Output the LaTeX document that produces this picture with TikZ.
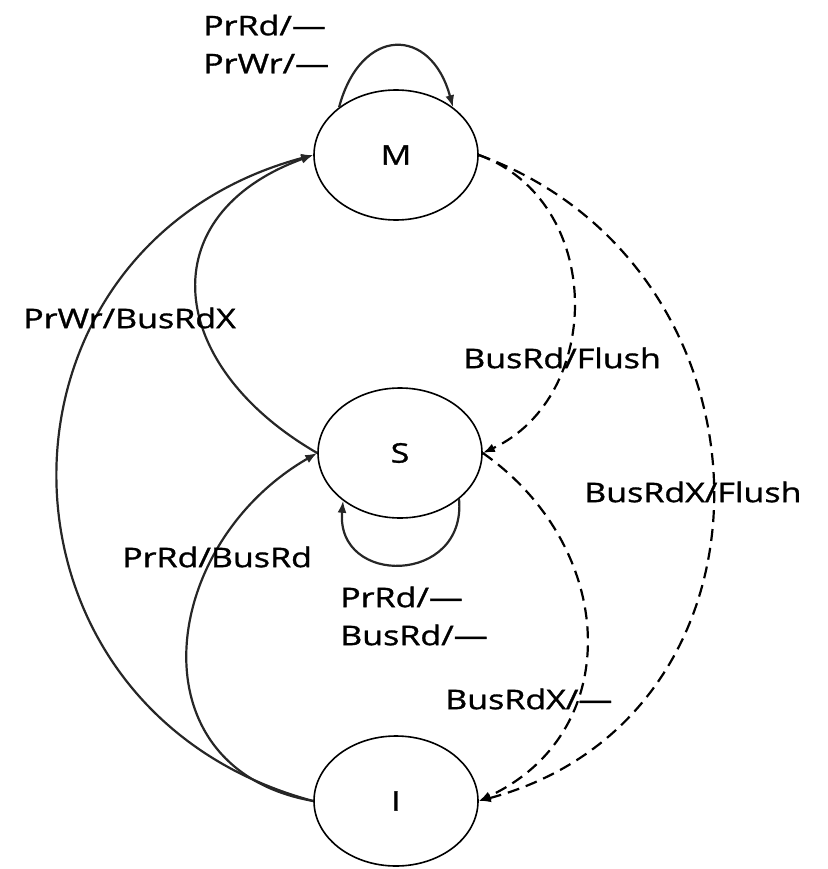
\documentclass[tikz,border=0pt]{standalone}
\usepackage{fontspec}
\setmainfont[FakeStretch=1.26,FakeBold=1.2]{Open Sans}
\usetikzlibrary{
    arrows.meta,
    shapes.geometric
}
\tikzset{
    % Colors
    edge color/.style={black!85},
    %
    % States
    state/.style={ellipse,draw=black,line width=1.6pt,minimum width=164pt,minimum height=130pt,inner sep=0pt},
    %
    % Arrows
    arrow tip/.tip={Latex[length=12pt,width=9pt]},
    arr/.style={->,>={arrow tip},edge color,line width=2.2pt},
    darr/.style={arr,draw=black,dash pattern=on 12pt off 7pt},
    %
    % Labels
    lbl/.style={inner sep=0pt,anchor=west,align=left}
}
\tikzstyle{every node}=[font=\fontsize{27}{38}\selectfont]

\begin{document}
\begin{tikzpicture}[x=1pt,y=1pt]
        \useasboundingbox (0,0) rectangle (827,-869);
        \node[state] (M) at (396,-155) {M};
        \node[state] (S) at (400,-453) {S};
        \node[state] (I) at (396,-801) {I};

        \draw[arr] (M.140) to[out=75,in=105,looseness=1.9] (M.40);
        \draw[arr] (S.-38) to[out=-85,in=-95,looseness=1.9] (S.-140);
        \draw[darr] (M.east) to[out=-20,in=25,looseness=1.15] (S.east);
        \draw[darr] (M.east) to[out=-20,in=15,looseness=1.3] (I.east);
        \draw[darr] (S.east) to[out=-35,in=25,looseness=1.2] (I.east);
        \draw[arr] (I.west) to[out=170,in=210,looseness=1.35] (S.west);
        \draw[arr] (I.west) to[out=165,in=195,looseness=1.4] (M.west);
        \draw[arr] (S.west) to[out=150,in=200,looseness=1.5] (M.west);

        \node[lbl] (mloop) at (203,-44) {PrRd/—\\PrWr/—};
        \node[lbl] (sloop) at (340,-616) {PrRd/—\\BusRd/—};
        \node[lbl] (ms) at (463,-358) {BusRd/Flush};
        \node[lbl] (mi) at (584,-492) {BusRdX/Flush};
        \node[lbl] (si) at (445,-699) {BusRdX/—};
        \node[lbl] (is) at (122,-557) {PrRd/BusRd};
        \node[lbl] (im) at (23,-318) {PrWr/BusRdX};
\end{tikzpicture}
\end{document}
